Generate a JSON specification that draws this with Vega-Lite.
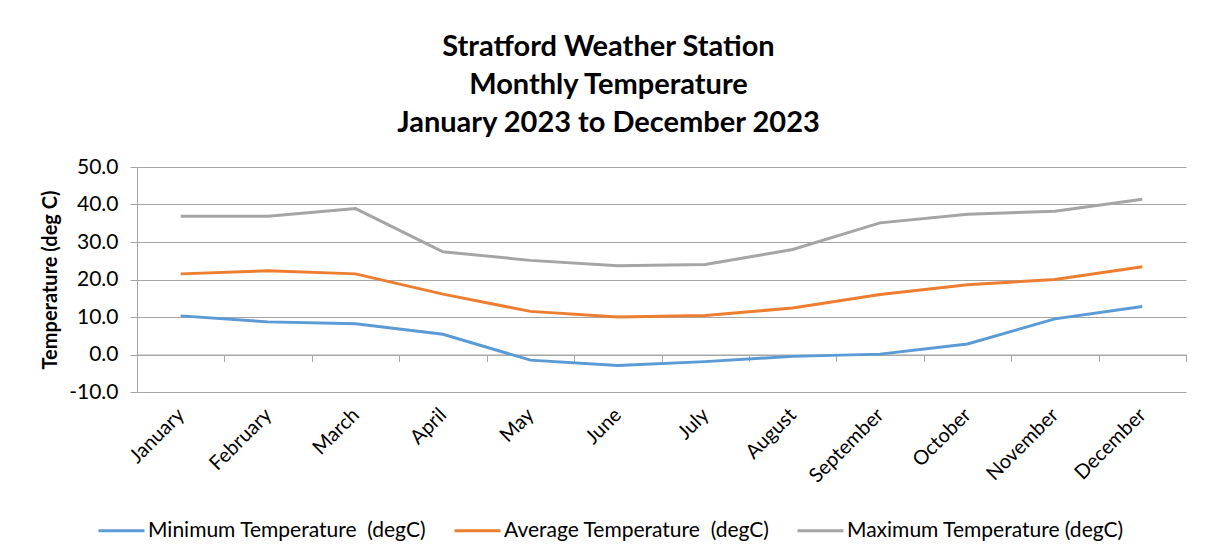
{
  "$schema": "https://vega.github.io/schema/vega-lite/v6.json",
  "width": 1049,
  "height": 225,
  "autosize": "none",
  "padding": {"left": 137, "top": 167, "right": 19, "bottom": 167},
  "background": "white",
  "title": {
    "text": ["Stratford Weather Station", "Monthly Temperature", "January 2023 to December 2023"],
    "font": "Lato",
    "fontSize": 29,
    "fontWeight": "bold",
    "color": "black",
    "lineHeight": 38,
    "anchor": "middle",
    "dx": -53,
    "offset": 18
  },
  "data": {
    "values": [
      {"month": "January", "series": "Minimum Temperature \u00a0(degC)", "temp": 10.3},
      {"month": "February", "series": "Minimum Temperature \u00a0(degC)", "temp": 8.7},
      {"month": "March", "series": "Minimum Temperature \u00a0(degC)", "temp": 8.2},
      {"month": "April", "series": "Minimum Temperature \u00a0(degC)", "temp": 5.4},
      {"month": "May", "series": "Minimum Temperature \u00a0(degC)", "temp": -1.5},
      {"month": "June", "series": "Minimum Temperature \u00a0(degC)", "temp": -2.9},
      {"month": "July", "series": "Minimum Temperature \u00a0(degC)", "temp": -1.9},
      {"month": "August", "series": "Minimum Temperature \u00a0(degC)", "temp": -0.5},
      {"month": "September", "series": "Minimum Temperature \u00a0(degC)", "temp": 0.1},
      {"month": "October", "series": "Minimum Temperature \u00a0(degC)", "temp": 2.8},
      {"month": "November", "series": "Minimum Temperature \u00a0(degC)", "temp": 9.5},
      {"month": "December", "series": "Minimum Temperature \u00a0(degC)", "temp": 12.8},
      {"month": "January", "series": "Average Temperature \u00a0(degC)", "temp": 21.5},
      {"month": "February", "series": "Average Temperature \u00a0(degC)", "temp": 22.3},
      {"month": "March", "series": "Average Temperature \u00a0(degC)", "temp": 21.5},
      {"month": "April", "series": "Average Temperature \u00a0(degC)", "temp": 16.1},
      {"month": "May", "series": "Average Temperature \u00a0(degC)", "temp": 11.5},
      {"month": "June", "series": "Average Temperature \u00a0(degC)", "temp": 10.0},
      {"month": "July", "series": "Average Temperature \u00a0(degC)", "temp": 10.4},
      {"month": "August", "series": "Average Temperature \u00a0(degC)", "temp": 12.4},
      {"month": "September", "series": "Average Temperature \u00a0(degC)", "temp": 16.0},
      {"month": "October", "series": "Average Temperature \u00a0(degC)", "temp": 18.6},
      {"month": "November", "series": "Average Temperature \u00a0(degC)", "temp": 20.0},
      {"month": "December", "series": "Average Temperature \u00a0(degC)", "temp": 23.4},
      {"month": "January", "series": "Maximum Temperature (degC)", "temp": 36.9},
      {"month": "February", "series": "Maximum Temperature (degC)", "temp": 36.9},
      {"month": "March", "series": "Maximum Temperature (degC)", "temp": 38.9},
      {"month": "April", "series": "Maximum Temperature (degC)", "temp": 27.4},
      {"month": "May", "series": "Maximum Temperature (degC)", "temp": 25.1},
      {"month": "June", "series": "Maximum Temperature (degC)", "temp": 23.7},
      {"month": "July", "series": "Maximum Temperature (degC)", "temp": 24.0},
      {"month": "August", "series": "Maximum Temperature (degC)", "temp": 28.0},
      {"month": "September", "series": "Maximum Temperature (degC)", "temp": 35.1},
      {"month": "October", "series": "Maximum Temperature (degC)", "temp": 37.4},
      {"month": "November", "series": "Maximum Temperature (degC)", "temp": 38.2},
      {"month": "December", "series": "Maximum Temperature (degC)", "temp": 41.4}
    ]
  },
  "mark": {"type": "line", "strokeWidth": 3},
  "encoding": {
    "x": {
      "field": "month",
      "type": "ordinal",
      "sort": ["January", "February", "March", "April", "May", "June", "July", "August", "September", "October", "November", "December"],
      "scale": {"type": "band", "paddingInner": 0, "paddingOuter": 0},
      "axis": {
        "title": null,
        "offset": -37.5,
        "tickBand": "extent",
        "tickSize": 7,
        "tickColor": "#A6A6A6",
        "domainColor": "#A6A6A6",
        "grid": false,
        "labelAngle": -45,
        "labelAlign": "right",
        "labelBaseline": "middle",
        "labelPadding": 50,
        "labelFont": "Lato",
        "labelFontSize": 20,
        "labelColor": "black"
      }
    },
    "y": {
      "field": "temp",
      "type": "quantitative",
      "scale": {"domain": [-10, 50], "nice": false, "zero": false},
      "axis": {
        "title": "Temperature (deg C)",
        "values": [-10, 0, 10, 20, 30, 40, 50],
        "labelExpr": "replace(format(datum.value, '.1f'), '\u2212', '-')",
        "tickSize": 7,
        "tickColor": "#A6A6A6",
        "domainColor": "#A6A6A6",
        "gridColor": "#A6A6A6",
        "labelFont": "Lato",
        "labelFontSize": 21,
        "labelPadding": 12,
        "labelColor": "black",
        "titleFont": "Lato",
        "titleFontSize": 20,
        "titleFontWeight": "bold",
        "titleColor": "black",
        "titlePadding": 8
      }
    },
    "color": {
      "field": "series",
      "type": "nominal",
      "sort": ["Minimum Temperature \u00a0(degC)", "Average Temperature \u00a0(degC)", "Maximum Temperature (degC)"],
      "scale": {
        "domain": ["Minimum Temperature \u00a0(degC)", "Average Temperature \u00a0(degC)", "Maximum Temperature (degC)"],
        "range": ["#5B9BD5", "#ED7D31", "#A5A5A5"]
      },
      "legend": {
        "orient": "none",
        "legendX": -40,
        "legendY": 339,
        "direction": "horizontal",
        "title": null,
        "symbolType": "stroke",
        "symbolSize": 2116,
        "symbolStrokeWidth": 3,
        "labelFont": "Lato",
        "labelFontSize": 21,
        "labelColor": "black",
        "labelOffset": 2,
        "labelLimit": 0,
        "columnPadding": 21
      }
    }
  },
  "config": {
    "view": {"stroke": null},
    "font": "Lato"
  }
}
